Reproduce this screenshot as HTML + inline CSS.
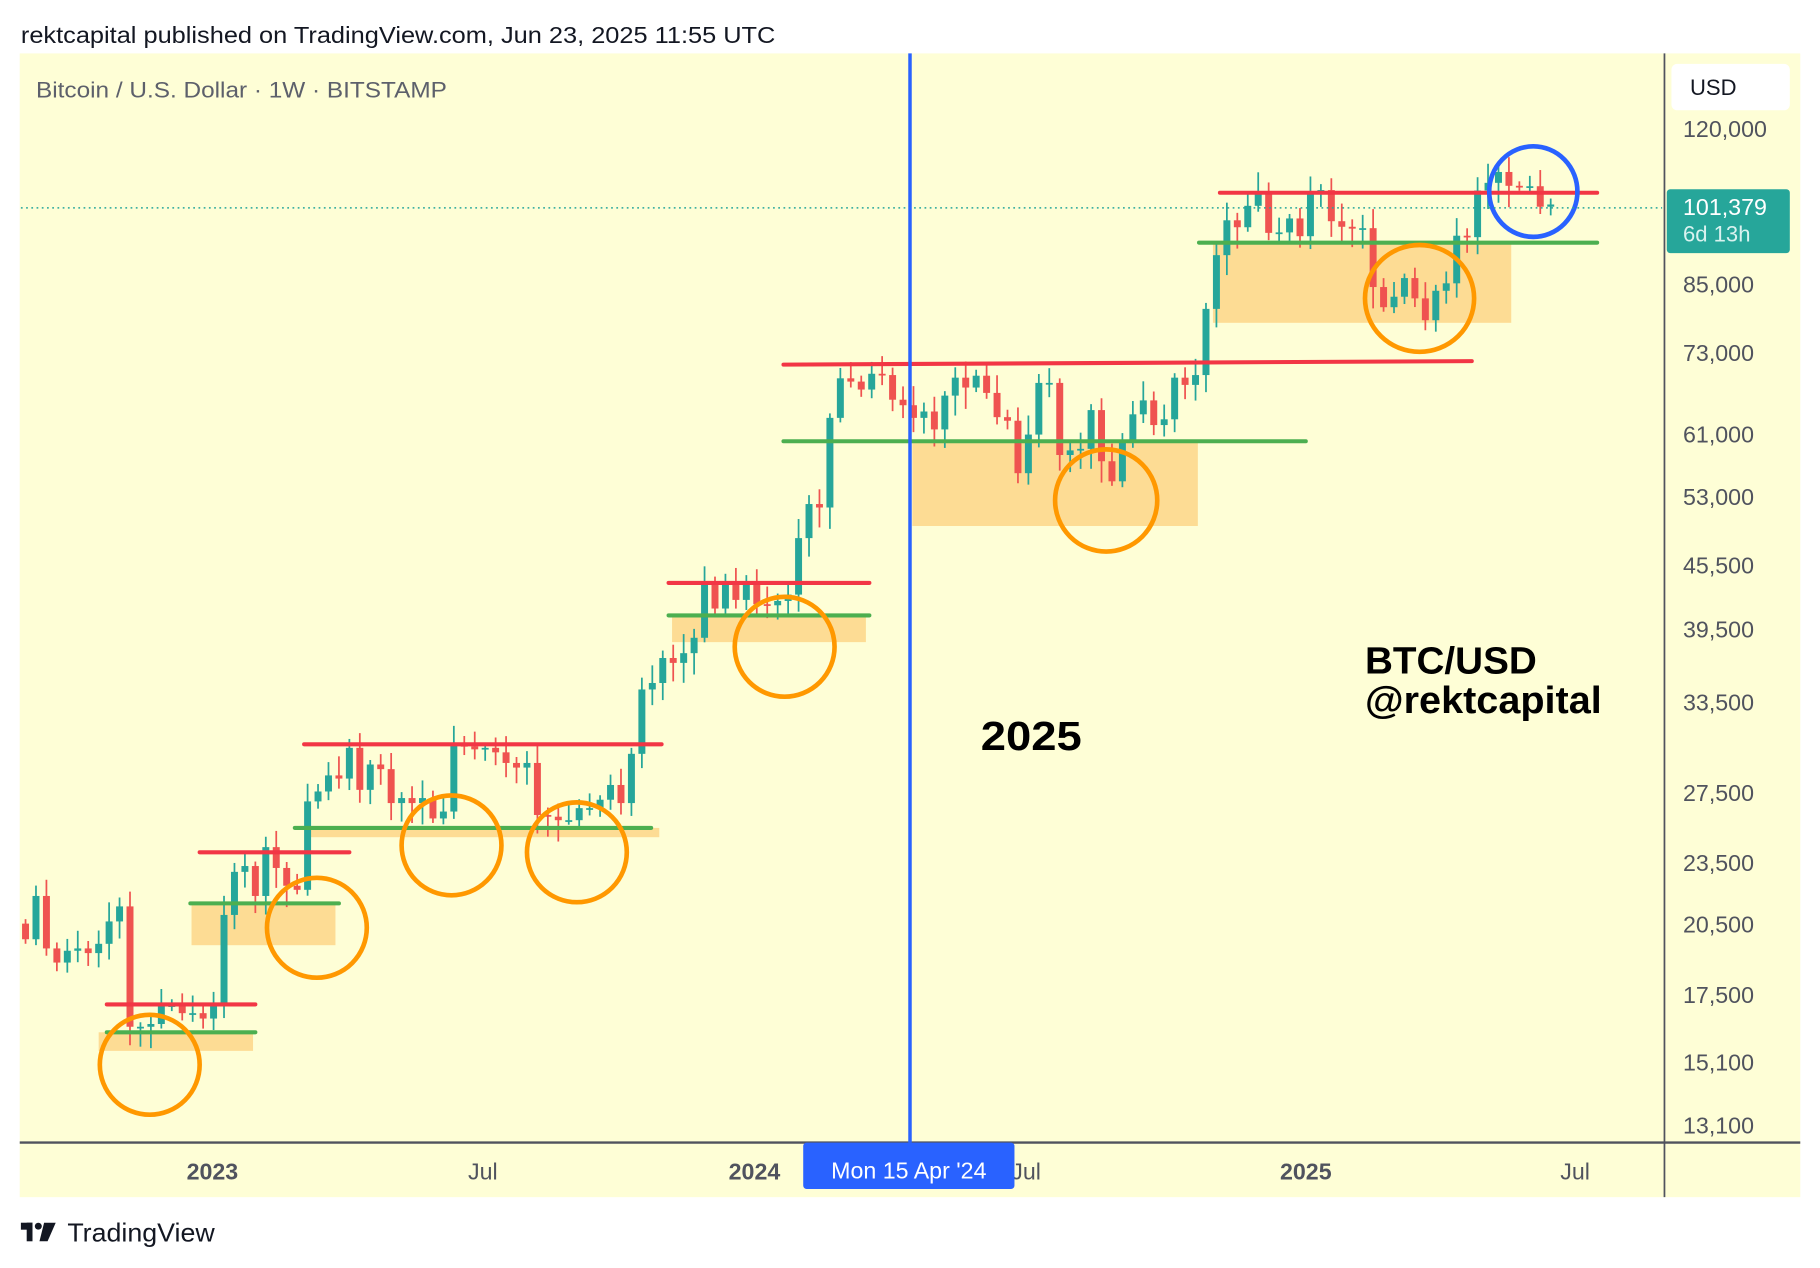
<!DOCTYPE html>
<html><head><meta charset="utf-8"><style>
html,body{margin:0;padding:0;background:#fff;width:1820px;height:1268px;overflow:hidden}
svg{display:block}
text{font-family:"Liberation Sans",sans-serif}
</style></head><body>
<svg id="s" width="1820" height="1268" viewBox="0 0 1568 1092" preserveAspectRatio="none" xmlns="http://www.w3.org/2000/svg">
<rect x="0" y="0" width="1568" height="1092" fill="#fff"/>
<text x="18" y="37" font-size="20" fill="#131722" textLength="650" lengthAdjust="spacingAndGlyphs">rektcapital published on TradingView.com, Jun 23, 2025 11:55 UTC</text>
<rect x="17" y="46" width="1534" height="985" fill="#fefed6"/>
<g id="ann"></g>
<g id="candles"></g>
<g id="overlay"></g>
<line x1="1434" y1="46" x2="1434" y2="1031" stroke="#50535e" stroke-width="1.5"/>
<line x1="17" y1="984" x2="1551" y2="984" stroke="#50535e" stroke-width="2"/>
<text x="31" y="84" font-size="19" fill="#5d606b" textLength="354" lengthAdjust="spacingAndGlyphs">Bitcoin / U.S. Dollar · 1W · BITSTAMP</text>
<rect x="1440" y="55" width="102" height="40" rx="5" fill="#fff"/>
<text x="1456" y="82" font-size="19" fill="#131722">USD</text>
<g font-size="20" fill="#50535e">
<text x="1450" y="118">120,000</text>
<text x="1450" y="252">85,000</text>
<text x="1450" y="311">73,000</text>
<text x="1450" y="381">61,000</text>
<text x="1450" y="435">53,000</text>
<text x="1450" y="494">45,500</text>
<text x="1450" y="549">39,500</text>
<text x="1450" y="612">33,500</text>
<text x="1450" y="690">27,500</text>
<text x="1450" y="750">23,500</text>
<text x="1450" y="803">20,500</text>
<text x="1450" y="864">17,500</text>
<text x="1450" y="922">15,100</text>
<text x="1450" y="976">13,100</text>
</g>
<line x1="18" y1="179" x2="1432" y2="179" stroke="#26a69a" stroke-width="1.3" stroke-dasharray="1.5 3"/>
<rect x="1436" y="163" width="106" height="55" rx="3" fill="#26a69a"/>
<text x="1450" y="185" font-size="20" fill="#fff">101,379</text>
<text x="1450" y="208" font-size="19" fill="#d9f2ef">6d 13h</text>
<line x1="784" y1="46" x2="784" y2="984" stroke="#2962ff" stroke-width="3"/>
<g font-size="20" fill="#50535e">
<text x="183" y="1016" text-anchor="middle" font-weight="bold">2023</text>
<text x="416" y="1016" text-anchor="middle">Jul</text>
<text x="650" y="1016" text-anchor="middle" font-weight="bold">2024</text>
<text x="884" y="1016" text-anchor="middle">Jul</text>
<text x="1125" y="1016" text-anchor="middle" font-weight="bold">2025</text>
<text x="1357" y="1016" text-anchor="middle">Jul</text>
</g>
<rect x="692" y="984" width="182" height="40" rx="3" fill="#2962ff"/>
<text x="783" y="1015" font-size="20" fill="#fff" text-anchor="middle">Mon 15 Apr '24</text>
<text x="845" y="646" font-size="35" font-weight="bold" fill="#000" textLength="87" lengthAdjust="spacingAndGlyphs">2025</text>
<text x="1176" y="580" font-size="33" font-weight="bold" fill="#000" textLength="148" lengthAdjust="spacingAndGlyphs">BTC/USD</text>
<text x="1176" y="614" font-size="33" font-weight="bold" fill="#000" textLength="204" lengthAdjust="spacingAndGlyphs">@rektcapital</text>
<g fill="#131722"><rect x="18" y="1053" width="10" height="6"/><rect x="23" y="1053" width="5" height="16"/><circle cx="33" cy="1056" r="3"/><polygon points="38,1053 48,1053 41,1069 34,1069"/></g>
<text x="58" y="1069" font-size="22" fill="#131722" textLength="127" lengthAdjust="spacingAndGlyphs">TradingView</text>
</svg>
<script>
(function(){
var NS="http://www.w3.org/2000/svg";
function el(p,t,a){var e=document.createElementNS(NS,t);for(var k in a)e.setAttribute(k,a[k]);p.appendChild(e);return e;}
function Y(p){return 4641.6-387.4*Math.log(p);}
var C=[19.8,21.8,19.4,18.8,19.3,19.4,19.2,19.6,20.6,21.3,16.3,16.3,16.4,17.1,17.1,16.8,16.8,16.6,
17.1,20.9,23.0,23.3,21.8,24.3,23.2,22.3,22.1,26.9,27.5,28.5,28.3,30.3,27.6,29.2,28.9,26.8,27.1,26.8,27.1,25.9,26.3,30.5,30.4,30.2,30.3,30.0,29.3,29.0,29.3,26.1,26.0,25.8,25.8,26.5,26.5,27.0,27.9,26.8,29.9,34.5,35.0,37.0,36.6,37.4,38.7,43.9,41.3,43.6,42.1,43.9,
41.7,41.6,42.0,42.6,48.3,52.1,51.7,63.1,68.9,68.4,67.2,69.6,69.4,65.7,64.9,63.1,64.0,61.5,66.3,69.0,67.5,69.3,66.7,63.2,62.7,55.8,60.8,68.2,68.2,58.1,58.7,58.9,64.2,57.3,54.8,60.0,63.6,65.6,62.1,62.9,69.0,67.9,69.4,80.4,90.6,97.9,96.4,101.1,104.4,95.2,95.3,98.3,
94.5,104.1,104.7,97.7,96.5,96.1,96.2,84.4,80.7,82.6,86.1,82.3,78.4,83.7,85.1,94.6,94.3,104.6,106.4,109.0,105.7,105.6,105.6,100.9,101.4];
var ann=document.getElementById('ann'),cg=document.getElementById('candles'),ov=document.getElementById('overlay');
[[85,889,133,16],[165,778,124,36],[265,713,303,8],[579,530,167,23],[786,380,246,73],[1045,209,257,69]].forEach(function(b){el(ann,'rect',{x:b[0],y:b[1],width:b[2],height:b[3],fill:'#fddc94'});});
var prev=20.5;
for(var i=0;i<C.length;i++){
 var o=prev*1000,c=C[i]*1000;
 var r1=0.01+((i*37)%11)/300,r2=0.01+((i*53)%13)/330;
 var h=Math.max(o,c)*(1+r1),l=Math.min(o,c)*(1-r2);
 var x=22+i*9,col=c>=o?'#26a69a':'#ef5350';
 el(cg,'line',{x1:x,x2:x,y1:Y(h),y2:Y(l),stroke:col,'stroke-width':1.5});
 var y1=Y(Math.max(o,c)),y2=Y(Math.min(o,c));
 el(cg,'rect',{x:x-3,y:y1,width:6,height:Math.max(1.5,y2-y1),fill:col});
 prev=C[i];
}
[[92,865,220,865],[172,734,301,734],[262,641,570,641],[576,502,749,502],[675,314,1268,311],[1051,166,1376,166]].forEach(function(l){el(ov,'line',{x1:l[0],y1:l[1],x2:l[2],y2:l[3],stroke:'#f23645','stroke-width':3.5,'stroke-linecap':'round'});});
[[92,889,220,889],[164,778,292,778],[254,713,561,713],[576,530,749,530],[675,380,1125,380],[1033,209,1376,209]].forEach(function(l){el(ov,'line',{x1:l[0],y1:l[1],x2:l[2],y2:l[3],stroke:'#4caf50','stroke-width':3.5,'stroke-linecap':'round'});});
[[129,917,43,43],[273,799,43,43],[389,728,43,43],[497,734,43,43],[676,557,43,43],[953,431,44,44],[1223,257,47,46]].forEach(function(c){el(ov,'ellipse',{cx:c[0],cy:c[1],rx:c[2],ry:c[3],fill:'none',stroke:'#ff9800','stroke-width':4});});
el(ov,'ellipse',{cx:1321,cy:165,rx:38,ry:39,fill:'none',stroke:'#2962ff','stroke-width':4});
})();
</script>
</body></html>
